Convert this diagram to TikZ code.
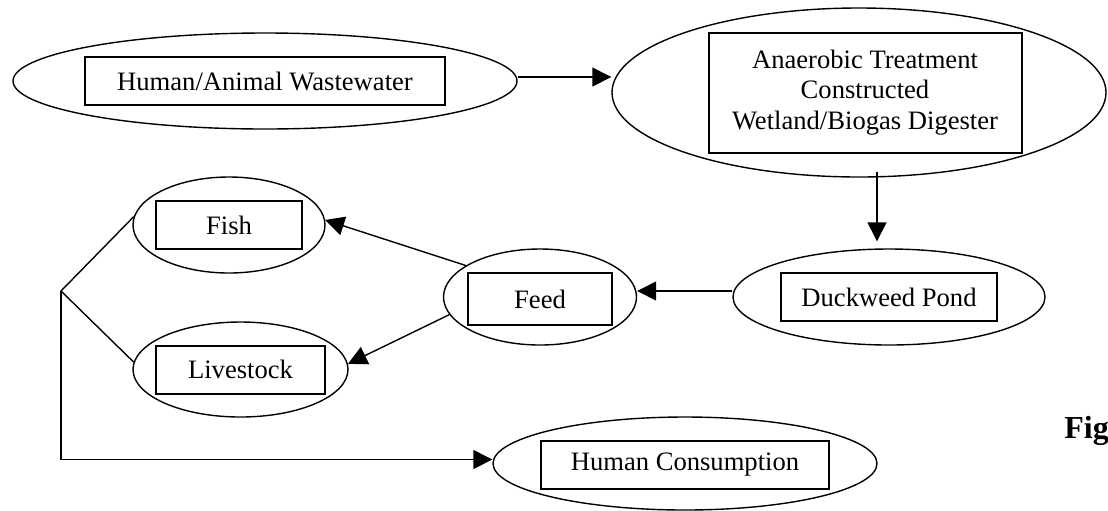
\documentclass[tikz,border=0pt]{standalone}
\usepackage{fontspec}
\setmainfont{Liberation Serif}
\usetikzlibrary{shapes.geometric,arrows.meta}

\begin{document}
\begin{tikzpicture}[x=0.5pt,y=-0.5pt,
  oval/.style={ellipse,draw,line width=0.7pt,inner sep=0pt},
  box/.style={rectangle,draw,line width=1pt,inner sep=0pt,align=center,
    font=\fontsize{13.3}{15.3}\selectfont},
  flow/.style={line width=0.7pt,-{Triangle[length=9.5pt,width=9.5pt]}}]
\clip (0,0) rectangle (1108,510);
\node [oval,minimum width=252pt,minimum height=48pt] (waste) at (265,81) {};
\node [box,minimum width=180pt,minimum height=24pt] (wastebox) at (waste) {Human/Animal Wastewater};
\node [oval,minimum width=247pt,minimum height=84.5pt] (treat) at (859,92.5) {};
\node [box,minimum width=156.5pt,minimum height=60pt] (treatbox) at ([xshift=3pt]treat)
  {Anaerobic Treatment\\Constructed\\Wetland/Biogas Digester};
\node [oval,minimum width=156pt,minimum height=48pt] (duck) at (889,297) {};
\node [box,minimum width=108pt,minimum height=24pt] (duckbox) at (duck) {Duckweed Pond};
\node [oval,minimum width=96.5pt,minimum height=48pt] (feed) at (540,297) {};
\node [box,minimum width=72pt,minimum height=26pt] (feedbox) at ([yshift=-1pt]feed) {Feed};
\node [oval,minimum width=96pt,minimum height=48pt] (fish) at (229,225) {};
\node [box,minimum width=73pt,minimum height=24pt] (fishbox) at (fish) {Fish};
\node [oval,minimum width=107.5pt,minimum height=47.5pt] (live) at (240.5,369.5) {};
\node [box,minimum width=84.5pt,minimum height=24pt] (livebox) at (live) {Livestock};
\node [oval,minimum width=192pt,minimum height=46.5pt] (human) at (685,463.5) {};
\node [box,minimum width=144pt,minimum height=24pt] (humanbox) at ([yshift=-0.75pt]human) {Human Consumption};
\node [anchor=base west,inner sep=0pt,font=\fontsize{16}{19}\selectfont\bfseries] (fig) at (1064,438) {Fig};

\coordinate (w1) at ([yshift=2pt]waste.east);
\draw [flow] (w1) -- (w1 -| treat.west);
\coordinate (t1) at ([xshift=9pt,yshift=3pt]treat.south);
\draw [flow,shorten >=3.5pt] (t1) -- (t1 |- duck.north);
\coordinate (d1) at ([yshift=3pt]duck.west);
\draw [flow] (d1) -- (d1 -| feed.east);
\draw [flow] (feed.157) -- (fish.3);
\draw [flow] (feed.191) -- (live.3);
\coordinate (split) at (61,291);
\draw [line width=0.7pt] (fish.175) -- (split) -- (live.176);
\draw [flow] (split) |- ([yshift=2pt]human.west);
\end{tikzpicture}
\end{document}
